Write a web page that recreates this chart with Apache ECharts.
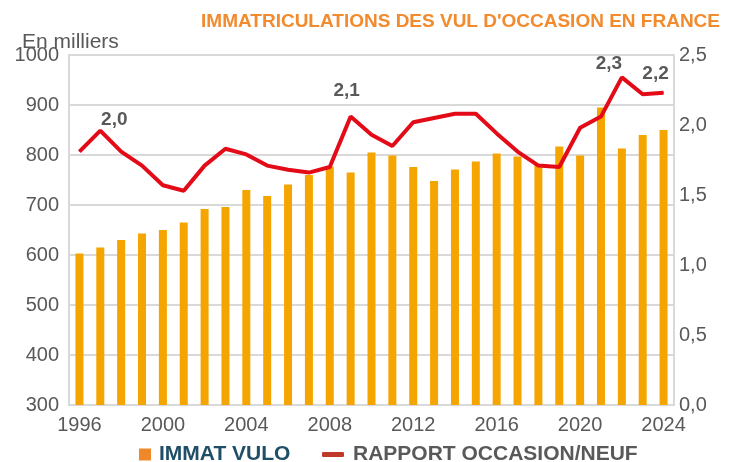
<!DOCTYPE html>
<html>
<head>
<meta charset="utf-8">
<script src="https://cdn.jsdelivr.net/npm/echarts@6/dist/echarts.min.js"></script>
<style>
  html, body { margin: 0; padding: 0; background: #fff; }
  #chart { width: 734px; height: 462px; }
</style>
</head>
<body>
<div id="chart"></div>
<script>
var years = [
  "1996", "1997", "1998", "1999", "2000", "2001", "2002", "2003", "2004", "2005",
  "2006", "2007", "2008", "2009", "2010", "2011", "2012", "2013", "2014", "2015",
  "2016", "2017", "2018", "2019", "2020", "2021", "2022", "2023", "2024"
];
// immatriculations VUL d'occasion, en milliers
var immatVulo = [
  603, 615, 630, 643, 650, 665, 692, 696, 730, 718,
  741, 760, 777, 765, 805, 799, 776, 748, 771, 787,
  803, 797, 780, 817, 799, 895, 813, 840, 850
];
// rapport occasion / neuf
var rapport = [
  1.81, 1.96, 1.81, 1.71, 1.57, 1.53, 1.71, 1.83, 1.79, 1.71,
  1.68, 1.66, 1.70, 2.06, 1.93, 1.85, 2.02, 2.05, 2.08, 2.08,
  1.94, 1.81, 1.71, 1.70, 1.98, 2.06, 2.34, 2.22, 2.23
];
// points labelled on the line, with label offsets
var labelled = { "1997": [14, 4], "2009": [-4, -11], "2022": [-13, 1], "2024": [-8, -4] };

var grey = "#595959";
var gridGrey = "#d9d9d9";

function fr(v) {
  return v.toFixed(1).replace(".", ",");
}

var lineData = rapport.map(function (v, i) {
  var off = labelled[years[i]];
  if (!off) return v;
  return {
    value: v,
    label: {
      show: true,
      position: "top",
      offset: off,
      formatter: function (p) { return fr(p.value); },
      color: grey,
      fontWeight: "bold",
      fontSize: 19,
      fontFamily: "Liberation Sans, Arial, sans-serif"
    }
  };
});

var chart = echarts.init(document.getElementById("chart"));
chart.setOption({
  animation: false,
  textStyle: { fontFamily: "Liberation Sans, Arial, sans-serif" },
  title: [
    {
      text: "IMMATRICULATIONS DES VUL D'OCCASION EN FRANCE",
      right: 9,
      top: 7,
      textStyle: { color: "#f28a2e", fontSize: 19, fontWeight: "bold" }
    },
    {
      text: "En milliers",
      left: 17,
      top: 27,
      textStyle: { color: grey, fontSize: 21, fontWeight: "normal" }
    }
  ],
  grid: { left: 69, right: 60, top: 55, bottom: 57 },
  legend: [
    {
      data: [{ name: "IMMAT VULO", icon: "rect", itemStyle: { color: "#f0882a" } }],
      left: 134,
      top: 439,
      itemWidth: 12,
      itemHeight: 12,
      textStyle: { color: "#1f4e66", fontSize: 21, fontWeight: "bold", padding: [0, 0, 0, 3] }
    },
    {
      data: [{ name: "RAPPORT OCCASION/NEUF", icon: "roundRect", itemStyle: { color: "#c0392b" } }],
      left: 317,
      top: 439,
      itemWidth: 22,
      itemHeight: 5,
      textStyle: { color: grey, fontSize: 21, fontWeight: "bold", padding: [0, 0, 0, 4] }
    }
  ],
  xAxis: {
    type: "category",
    data: years,
    boundaryGap: true,
    axisLine: { lineStyle: { color: gridGrey, width: 2 } },
    axisTick: { interval: 2, length: 6, lineStyle: { color: gridGrey, width: 2 } },
    axisLabel: { interval: 3, color: grey, fontSize: 20, margin: 10 }
  },
  yAxis: [
    {
      type: "value",
      min: 300,
      max: 1000,
      interval: 100,
      axisLine: { show: true, lineStyle: { color: gridGrey, width: 2 } },
      axisTick: { show: false },
      axisLabel: { color: grey, fontSize: 20, margin: 10, formatter: function (v) { return String(v); } },
      splitLine: { lineStyle: { color: gridGrey, width: 2 } }
    },
    {
      type: "value",
      position: "right",
      min: 0,
      max: 2.5,
      interval: 0.5,
      axisLine: { show: true, lineStyle: { color: gridGrey, width: 2 } },
      axisTick: { show: false },
      axisLabel: { color: grey, fontSize: 20, margin: 5, formatter: fr },
      splitLine: { show: false }
    }
  ],
  series: [
    {
      name: "IMMAT VULO",
      type: "bar",
      data: immatVulo,
      barWidth: 8,
      itemStyle: { color: "#f5a500" }
    },
    {
      name: "RAPPORT OCCASION/NEUF",
      type: "line",
      yAxisIndex: 1,
      data: lineData,
      symbol: "circle",
      symbolSize: 1,
      showSymbol: true,
      lineStyle: { color: "#e30b17", width: 4 },
      itemStyle: { color: "#e30b17" },
      z: 3
    }
  ]
});
</script>
</body>
</html>
